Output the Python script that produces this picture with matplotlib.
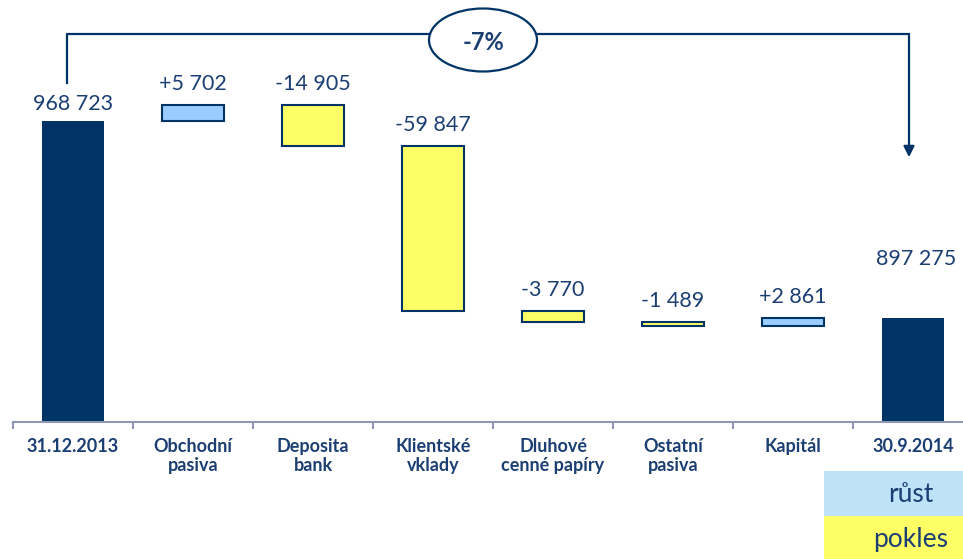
import numpy as np
import matplotlib
matplotlib.use("Agg")
import matplotlib.pyplot as plt
from matplotlib.patches import Ellipse, Rectangle

plt.rcParams['font.family'] = ['Lato', 'DejaVu Sans']

# data
categories = ["31.12.2013", "Obchodní\npasiva", "Deposita\nbank", "Klientské\nvklady",
              "Dluhové\ncenné papíry", "Ostatní\npasiva", "Kapitál", "30.9.2014"]
start_value = 968723
changes = [5702, -14905, -59847, -3770, -1489, 2861]
end_value = 897275
change_labels = ["+5 702", "-14 905", "-59 847", "-3 770", "-1 489", "+2 861"]
total_labels = ["968 723", "897 275"]
pct_label = "-7%"
legend_labels = ["růst", "pokles"]

navy = "#003366"
text_c = "#1B3F73"
up_c = "#99CCFF"
down_c = "#FFFF66"

W, H = 963, 559
fig = plt.figure(figsize=(W / 100, H / 100), dpi=100)

# main axes: baseline at 422 px from top, categories 120 px wide from x=13
ax = fig.add_axes([13 / W, (H - 422) / H, 960 / W, 422 / H])
ymin, ymax = 859550, 1012610
ax.set_ylim(ymin, ymax)
ax.set_xlim(-0.5, len(categories) - 0.5)

bw = 0.52
x = np.arange(len(categories))

# totals
ax.bar(x[0], start_value - ymin, bottom=ymin, width=bw, color=navy, clip_on=False)
ax.bar(x[-1], end_value - ymin, bottom=ymin, width=bw, color=navy, clip_on=False)
ax.annotate(total_labels[0], (x[0], start_value), xytext=(0, 5), textcoords="offset points",
            ha="center", va="bottom", fontsize=15.5, color=text_c)
ax.annotate(total_labels[1], (x[-1], end_value), xytext=(2, 35), textcoords="offset points",
            ha="center", va="bottom", fontsize=15.5, color=text_c)

# changes
level = start_value
for i, (d, lab) in enumerate(zip(changes, change_labels), start=1):
    lo, hi = min(level, level + d), max(level, level + d)
    ax.bar(x[i], hi - lo, bottom=lo, width=bw, color=up_c if d > 0 else down_c,
           edgecolor=navy, linewidth=1.5)
    ax.annotate(lab, (x[i], hi), xytext=(0, 8), textcoords="offset points",
                ha="center", va="bottom", fontsize=15.5, color=text_c)
    level += d

for s in ["top", "right", "left"]:
    ax.spines[s].set_visible(False)
ax.spines["bottom"].set_color("#8E97B3")
ax.spines["bottom"].set_linewidth(1.5)
ax.set_yticks([])
ax.set_xticks(np.arange(len(categories) + 1) - 0.5)
ax.set_xticklabels([])
ax.tick_params(axis="x", length=5, width=1.5, color="#8E97B3")
for i, c in enumerate(categories):
    ax.text(x[i], ymin - 5800, c, ha="center", va="top", fontsize=13, fontweight="bold",
            color=text_c, linespacing=1.15)

# overlay in pixel coordinates for bracket, ellipse and legend
ov = fig.add_axes([0, 0, 1, 1])
ov.set_xlim(0, W)
ov.set_ylim(H, 0)
ov.axis("off")
ov.patch.set_alpha(0)

ov.plot([67, 67, 430], [83, 34, 34], color=navy, lw=1.6)
ov.plot([536, 909], [34, 34], color=navy, lw=1.6)
ov.annotate("", xy=(909, 160), xytext=(909, 33),
            arrowprops=dict(arrowstyle="-|>", color=navy, lw=1.6, mutation_scale=16))
ov.add_patch(Ellipse((483, 40), 108, 63, facecolor="white", edgecolor=navy, lw=1.6))
ov.text(483, 42, pct_label, ha="center", va="center", fontsize=17, fontweight="bold", color=text_c)

ov.add_patch(Rectangle((824, 471), 140, 45, facecolor="#BEE3F8", edgecolor="none"))
ov.add_patch(Rectangle((824, 516), 140, 43, facecolor="#FFFF66", edgecolor="none"))
ov.text(911, 494, legend_labels[0], ha="center", va="center", fontsize=19, color=text_c)
ov.text(911, 539, legend_labels[1], ha="center", va="center", fontsize=19, color=text_c)

fig.savefig("out.png", dpi=100)
